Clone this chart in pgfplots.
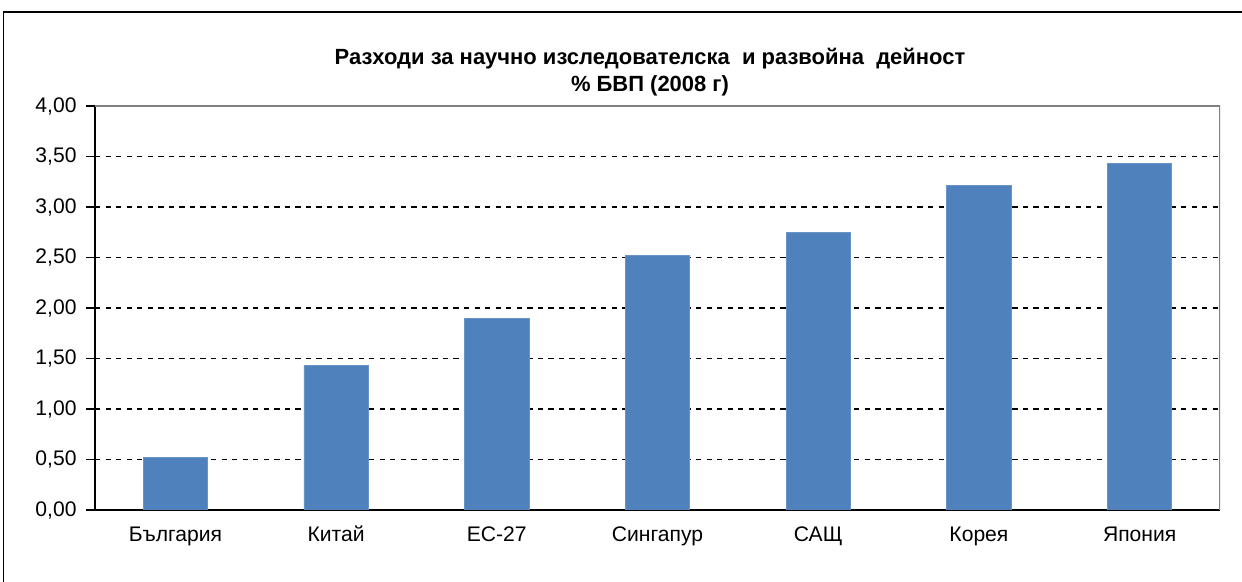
\documentclass[border=0pt]{standalone}
\usepackage{fontspec}
\setmainfont{Liberation Sans}
\usepackage{pgfplots}
\pgfplotsset{compat=1.18}
\definecolor{barblue}{HTML}{4F81BD}
\begin{document}
\begin{tikzpicture}
\useasboundingbox (0,0) rectangle (24.84cm,11.64cm);
\draw[black, line width=0.9pt] (0.07cm,-1cm) -- (0.07cm,11.40cm) -- (26cm,11.40cm);
\node[font=\bfseries\fontsize{12.5}{15}\selectfont] at (13.0cm,10.46cm) {Разходи за научно изследователска\ \ и развойна\ \ дейност};
\node[font=\bfseries\fontsize{12.5}{15}\selectfont] at (13.0cm,9.92cm) {\% БВП (2008 г)};
\begin{axis}[
  at={(1.90cm,1.44cm)}, anchor=south west,
  scale only axis, width=22.5cm, height=8.08cm,
  xmin=-0.5, xmax=6.5, ymin=0, ymax=4,
  axis lines*=left,
  axis line style={black, line width=0.8pt},
  tick align=outside,
  ytick={0,0.5,...,4},
  yticklabel style={/pgf/number format/fixed, /pgf/number format/fixed zerofill, /pgf/number format/precision=2, /pgf/number format/use comma, /pgf/number format/assume math mode=true, font=\fontsize{12}{14}\selectfont, black, xshift=-2pt},
  xtick={0,...,6},
  xticklabels={България, Китай, ЕС-27, Сингапур, САЩ, Корея, Япония},
  xticklabel style={font=\fontsize{12}{14}\selectfont, black, text height=1.8ex, text depth=0.3ex},
  x tick style={draw=none},
  y tick style={black, line width=0.6pt},
  major tick length=5pt,
  extra x ticks={-0.5,0.5,...,6.5},
  extra x tick labels={},
  extra x tick style={grid=none, tick style={draw=black, line width=0.6pt}},
  ymajorgrids,
  major grid style={black, dashed, line width=0.6pt},
  ybar, bar width=0.4,
]
\addplot[fill=barblue, draw=barblue!85!white] coordinates {
 (0,0.52) (1,1.43) (2,1.90) (3,2.52) (4,2.75) (5,3.21) (6,3.43)
};
\draw[gray, line width=1.2pt] (rel axis cs:0,1) -- (rel axis cs:1,1) -- (rel axis cs:1,0);
\end{axis}
\end{tikzpicture}
\end{document}
